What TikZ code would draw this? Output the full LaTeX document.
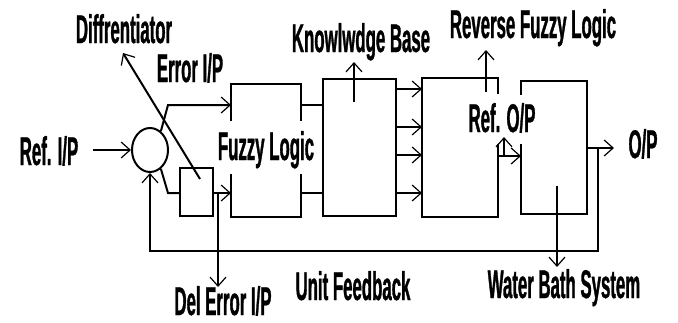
\documentclass[tikz,border=0pt]{standalone}
\usepackage{fontspec}
\newfontfamily\labfont{Liberation Sans}[FakeStretch=0.42,FakeBold=0.8]
\usetikzlibrary{arrows.meta,shapes.geometric,calc}
\begin{document}
\begin{tikzpicture}[x=1pt,y=-1pt,line width=2pt,
  >={Straight Barb[length=9pt,width=16pt,line width=1.2pt]},
  lab/.style={font=\labfont\bfseries\fontsize{40}{42}\selectfont,inner sep=0,anchor=base},
  blk/.style={draw,line width=2pt,inner sep=0},
  hid/.style={inner sep=0}]
\useasboundingbox (0,0) rectangle (678,322);

% summing junction
\node[ellipse,draw,minimum width=36pt,minimum height=44pt,inner sep=0] (sum) at (150,150) {};

% blocks
\node[blk,minimum width=33pt,minimum height=48pt] (diff) at (196.5,192) {};
\node[hid,minimum width=68pt,minimum height=131pt] (fl) at (266,150.5) {};
\node[blk,minimum width=73pt,minimum height=137pt] (kb) at (359.5,147.5) {};
\node[hid,minimum width=74pt,minimum height=137pt] (rfl) at (460,147.5) {};
\node[hid,minimum width=64pt,minimum height=131pt] (wb) at (554,147.5) {};

% outlines with gaps
\draw ($(fl.north west)+(0,37)$) -- (fl.north west) -- (fl.north east) -- ($(fl.north east)+(0,37)$);
\draw ($(fl.south west)-(0,43)$) -- (fl.south west) -- (fl.south east) -- ($(fl.south east)-(0,43)$);
\draw ($(rfl.north east)+(0,16)$) -- (rfl.north east) -- (rfl.north west) -- (rfl.south west) -- (rfl.south east) -- ($(rfl.south east)-(0,73)$);
\draw ($(wb.north west)+(0,14)$) -- (wb.north west) -- (wb.north east) -- (wb.south east) -- (wb.south west) -- ($(wb.south west)-(0,70)$);

% coordinates
\coordinate (refS) at (93,150);
\coordinate (up1) at (168,105);
\coordinate (lo1) at (168,193);
\coordinate (dj) at (218,193);
\coordinate (dtip) at (218,287);
\coordinate (d0) at (200,179);
\coordinate (d1) at (123,53);
\coordinate (kbS) at (354,102);
\coordinate (kbT) at (354,62);
\coordinate (k1) at (0,89);
\coordinate (k2) at (0,127);
\coordinate (k3) at (0,155);
\coordinate (k4) at (0,193);
\coordinate (rS) at (486,92);
\coordinate (rT) at (486,50);
\coordinate (rw) at (0,156);
\coordinate (roS) at (504,156);
\coordinate (roT) at (504,137);
\coordinate (op) at (0,148);
\coordinate (opT) at (614,148);
\coordinate (wS) at (557,186);
\coordinate (wT) at (557,267);
\coordinate (fb1) at (598,148);
\coordinate (fb2) at (598,251);

% connectors
\draw[->] (refS) -- (sum.west);
\draw[->] (sum.60) -- (up1) -- (fl.west |- up1);
\draw (sum.-60) -- (lo1) -- (diff.west |- lo1);
\draw[->] (diff.east |- lo1) -- (fl.west |- lo1);
\draw[->] (dj) -- (dtip);
\draw[->] (d0) -- (d1);
\draw (fl.east |- up1) -- (kb.west |- up1);
\draw (fl.east |- lo1) -- (kb.west |- lo1);
\draw[->] (kbS) -- (kbT);
\foreach \k in {k1,k2,k3,k4} \draw[->] (kb.east |- \k) -- (rfl.west |- \k);
\draw[->] (rS) -- (rT);
\draw[->] (rfl.east |- rw) -- (wb.west |- rw);
\draw[->] (roS) -- (roT);
\draw[->] (wb.east |- op) -- (opT);
\draw[->] (wS) -- (wT);
\draw[->] (fb1) -- (fb2) -- (sum.south |- fb2) -- (sum.south);

% labels
\node[lab] (tdiff) at (124,43) {Diffrentiator};
\node[lab] (terr) at (190,82) {Error I/P};
\node[lab] (tkb) at (361,52) {Knowlwdge Base};
\node[lab] (trfl) at (533,38) {Reverse Fuzzy Logic};
\node[lab] (tref) at (49,165) {Ref. I/P};
\node[lab] (tfl) at (266,160) {Fuzzy Logic};
\node[lab] (trefo) at (502,132) {Ref. O/P};
\node[lab] (top) at (643,158) {O/P};
\node[lab] (tdel) at (223,315) {Del Error I/P};
\node[lab] (tunit) at (353,300) {Unit Feedback};
\node[lab] (twb) at (564,298) {Water Bath System};
\end{tikzpicture}
\end{document}
